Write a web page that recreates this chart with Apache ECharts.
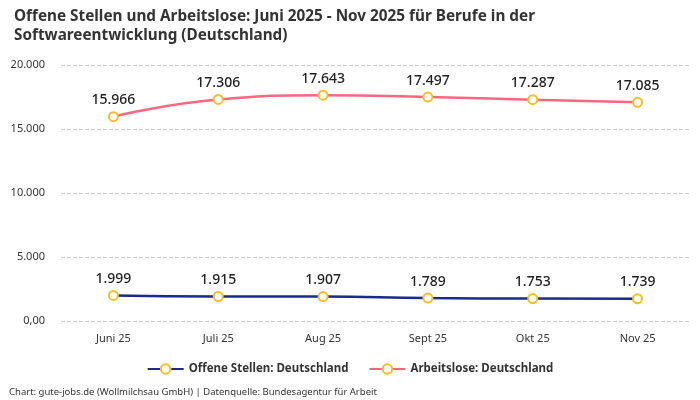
<!DOCTYPE html>
<html style="height: 100%">
	<head>
		<meta charset="utf-8" />
		<title>Offene Stellen und Arbeitslose</title>
		<script src="https://cdn.jsdelivr.net/npm/echarts@6/dist/echarts.min.js"></script>
	</head>
	<body style="height: 100%; margin: 0; background: #fff">
		<div id="container" style="width: 700px; height: 400px"></div>
		<script type="text/javascript">
			// Monate
			let months = ["Juni 25", "Juli 25", "Aug 25", "Sept 25", "Okt 25", "Nov 25"];
			// Werte
			let offeneStellen = [1999, 1915, 1907, 1789, 1753, 1739];
			let arbeitslose = [15966, 17306, 17643, 17497, 17287, 17085];

			let font = "Noto Sans";
			let fmt = (v) => v.toLocaleString("de-DE");

			let container = document.getElementById("container");
			let chart = echarts.init(container);
			chart.setOption({
				animation: false,
				textStyle: { fontFamily: font },
				title: {
					text: "Offene Stellen und Arbeitslose: Juni 2025 - Nov 2025 für Berufe in der\nSoftwareentwicklung (Deutschland)",
					left: 9,
					top: 2,
					textStyle: {
						fontFamily: font,
						fontSize: 15.3,
						fontWeight: "bold",
						color: "#333",
						lineHeight: 19,
					},
				},
				legend: {
					bottom: 20,
					left: "center",
					itemWidth: 36,
					itemHeight: 12,
					itemGap: 20,
					textStyle: { fontFamily: font, fontSize: 11.5, fontWeight: "bold", color: "#333" },
					data: ["Offene Stellen: Deutschland", "Arbeitslose: Deutschland"],
				},
				graphic: [
					{
						type: "text",
						left: 9,
						bottom: 3,
						style: {
							text: "Chart: gute-jobs.de (Wollmilchsau GmbH) | Datenquelle: Bundesagentur für Arbeit",
							fontFamily: font,
							fontSize: 9.5,
							fill: "#333",
						},
					},
				],
				grid: { left: 61, right: 10, top: 65, bottom: 79, containLabel: false },
				xAxis: {
					type: "category",
					data: months,
					boundaryGap: true,
					axisLine: { show: false },
					axisTick: { show: false },
					axisLabel: { color: "#333", fontSize: 11, margin: 12 },
				},
				yAxis: {
					type: "value",
					min: 0,
					max: 20000,
					interval: 5000,
					axisLabel: {
						color: "#333",
						fontSize: 11,
						margin: 16,
						formatter: (v) => (v === 0 ? "0,00" : fmt(v)),
					},
					splitLine: { lineStyle: { type: "dashed", color: "#ccc" } },
				},
				series: [
					{
						name: "Offene Stellen: Deutschland",
						type: "line",
						smooth: true,
						data: offeneStellen,
						color: "#1b2a8c",
						lineStyle: { width: 2.5, color: "#1b2a8c" },
						symbol: "circle",
						symbolSize: 9,
						itemStyle: { color: "#fff", borderColor: "#fbbd23", borderWidth: 2 },
						label: {
							show: true,
							position: "top",
							distance: 4,
							fontSize: 14,
							fontWeight: 500,
							color: "#222",
							formatter: (p) => fmt(p.value),
						},
					},
					{
						name: "Arbeitslose: Deutschland",
						type: "line",
						smooth: true,
						data: arbeitslose,
						color: "#f7677f",
						lineStyle: { width: 2.5, color: "#f7677f" },
						symbol: "circle",
						symbolSize: 9,
						itemStyle: { color: "#fff", borderColor: "#fbbd23", borderWidth: 2 },
						label: {
							show: true,
							position: "top",
							distance: 4,
							fontSize: 14,
							fontWeight: 500,
							color: "#222",
							formatter: (p) => fmt(p.value),
						},
					},
				],
			});
		</script>
	</body>
</html>
